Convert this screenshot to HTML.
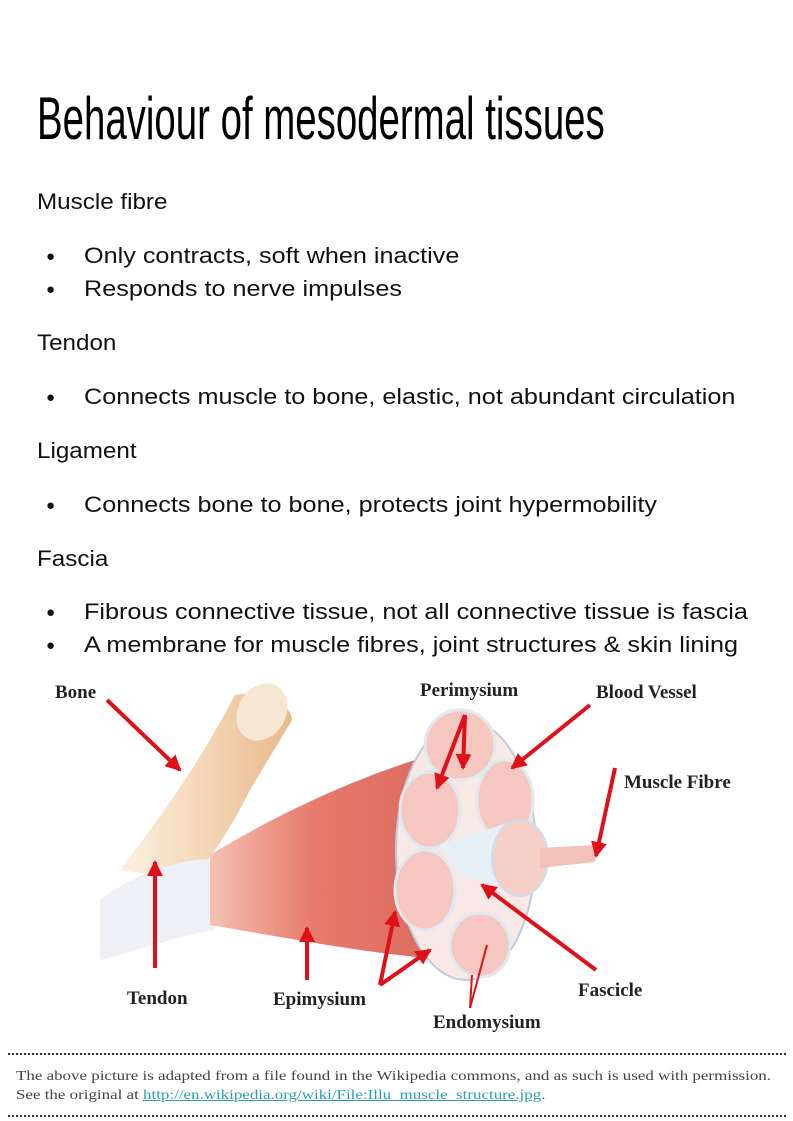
<!DOCTYPE html>
<html><head><meta charset="utf-8"><style>
body{margin:0;width:793px;height:1121px;background:#fff;position:relative;overflow:hidden;font-family:"Liberation Sans",sans-serif;color:#111}
.t{position:absolute;left:37px;top:84px;font-size:60px;font-weight:300;transform:scaleX(0.64);transform-origin:left top;white-space:nowrap;color:#000}
.p{position:absolute;left:37px;font-size:22px;white-space:nowrap;transform:scaleX(1.1);transform-origin:left top}
.b{position:absolute;left:84px;font-size:22.5px;white-space:nowrap;transform:scaleX(1.12);transform-origin:left top}
.bl{position:absolute;left:46px;font-size:15px}
.dl{position:absolute;left:8px;width:778px;border-top:2px dotted #333}
.f{position:absolute;left:16px;font-family:"Liberation Serif",serif;font-size:14px;color:#444;white-space:nowrap;transform:scaleX(1.21);transform-origin:left top}
.f a{color:#2a9fb0;text-decoration:underline}
</style></head><body>
<div class="t">Behaviour of mesodermal tissues</div>
<div class="p" style="top:189px">Muscle fibre</div>
<div class="bl" style="top:248px">●</div><div class="b" style="top:243px">Only contracts, soft when inactive</div>
<div class="bl" style="top:281px">●</div><div class="b" style="top:276px">Responds to nerve impulses</div>
<div class="p" style="top:330px">Tendon</div>
<div class="bl" style="top:389px">●</div><div class="b" style="top:384px">Connects muscle to bone, elastic, not abundant circulation</div>
<div class="p" style="top:438px">Ligament</div>
<div class="bl" style="top:497px">●</div><div class="b" style="top:492px">Connects bone to bone, protects joint hypermobility</div>
<div class="p" style="top:546px">Fascia</div>
<div class="bl" style="top:604px">●</div><div class="b" style="top:599px">Fibrous connective tissue, not all connective tissue is fascia</div>
<div class="bl" style="top:637px">●</div><div class="b" style="top:632px">A membrane for muscle fibres, joint structures &amp; skin lining</div>
<svg style="position:absolute;left:0;top:0" width="793" height="1121">
<defs>
<linearGradient id="bone" x1="0" y1="0" x2="1" y2="0"><stop offset="0" stop-color="#fdf1e2"/><stop offset="1" stop-color="#e9b98a"/></linearGradient>
<linearGradient id="mus" x1="0" y1="0" x2="1" y2="0"><stop offset="0" stop-color="#f6c0b4"/><stop offset="0.4" stop-color="#e77a6c"/><stop offset="1" stop-color="#d9665b"/></linearGradient>
<marker id="ah" markerWidth="4" markerHeight="4" refX="3.5" refY="2" orient="auto"><path d="M0,0L4,2L0,4z" fill="#e0101a"/></marker>
</defs>
<path d="M235,695 C260,690 290,700 292,720 L250,790 C230,830 210,860 190,880 L120,870 C150,830 190,780 235,695z" fill="url(#bone)"/>
<ellipse cx="262" cy="712" rx="24" ry="30" fill="#f6e6d4" transform="rotate(30 262 712)"/>
<path d="M100,900 C140,870 180,860 215,858 L215,930 C180,935 140,950 100,960z" fill="#eef0f6"/>
<path d="M210,855 C300,800 400,760 470,745 L470,960 C400,960 300,940 210,925z" fill="url(#mus)"/>
<ellipse cx="466" cy="850" rx="70" ry="130" fill="#f8e8e6" stroke="#bcd" stroke-width="2"/>
<g fill="#f5c7c0" stroke="#dfe9ee" stroke-width="3">
<ellipse cx="460" cy="745" rx="35" ry="35"/><ellipse cx="430" cy="810" rx="30" ry="38"/><ellipse cx="505" cy="800" rx="28" ry="40"/>
<ellipse cx="425" cy="890" rx="30" ry="40"/><ellipse cx="480" cy="945" rx="30" ry="32"/>
</g>
<path d="M440,845 L510,822 L520,890 L460,875z" fill="#e8f0f7"/>
<ellipse cx="520" cy="858" rx="28" ry="38" fill="#f6cfc6" stroke="#cde" stroke-width="2"/>
<path d="M540,848 L595,845 L595,862 L540,868z" fill="#f2c2b8"/>
<g stroke="#e0101a" stroke-width="4" fill="none" marker-end="url(#ah)">
<line x1="107" y1="700" x2="180" y2="770"/>
<line x1="465" y1="715" x2="437" y2="788"/><line x1="465" y1="715" x2="463" y2="768"/>
<line x1="590" y1="705" x2="512" y2="768"/>
<line x1="615" y1="768" x2="596" y2="856"/>
<line x1="155" y1="968" x2="155" y2="862"/>
<line x1="307" y1="980" x2="307" y2="928"/>
<line x1="380" y1="985" x2="395" y2="912"/><line x1="380" y1="985" x2="430" y2="950"/>
<line x1="596" y1="970" x2="482" y2="885"/>
</g>
<g stroke="#e0101a" stroke-width="2"><line x1="470" y1="1008" x2="487" y2="945"/><line x1="470" y1="1008" x2="472" y2="975"/></g>
<g font-family="Liberation Serif,serif" font-weight="bold" font-size="19" fill="#222">
<text x="55" y="698">Bone</text><text x="420" y="696">Perimysium</text><text x="596" y="698">Blood Vessel</text>
<text x="624" y="788">Muscle Fibre</text><text x="127" y="1004">Tendon</text><text x="273" y="1005">Epimysium</text>
<text x="578" y="996">Fascicle</text><text x="433" y="1028">Endomysium</text>
</g>
</svg>
<div class="dl" style="top:1053px"></div>
<div class="f" style="top:1069px">The above picture is adapted from a file found in the Wikipedia commons, and as such is used with permission.</div>
<div class="f" style="top:1088px">See the original at <a>http://en.wikipedia.org/wiki/File:Illu_muscle_structure.jpg</a>.</div>
<div class="dl" style="top:1115px"></div>
</body></html>
